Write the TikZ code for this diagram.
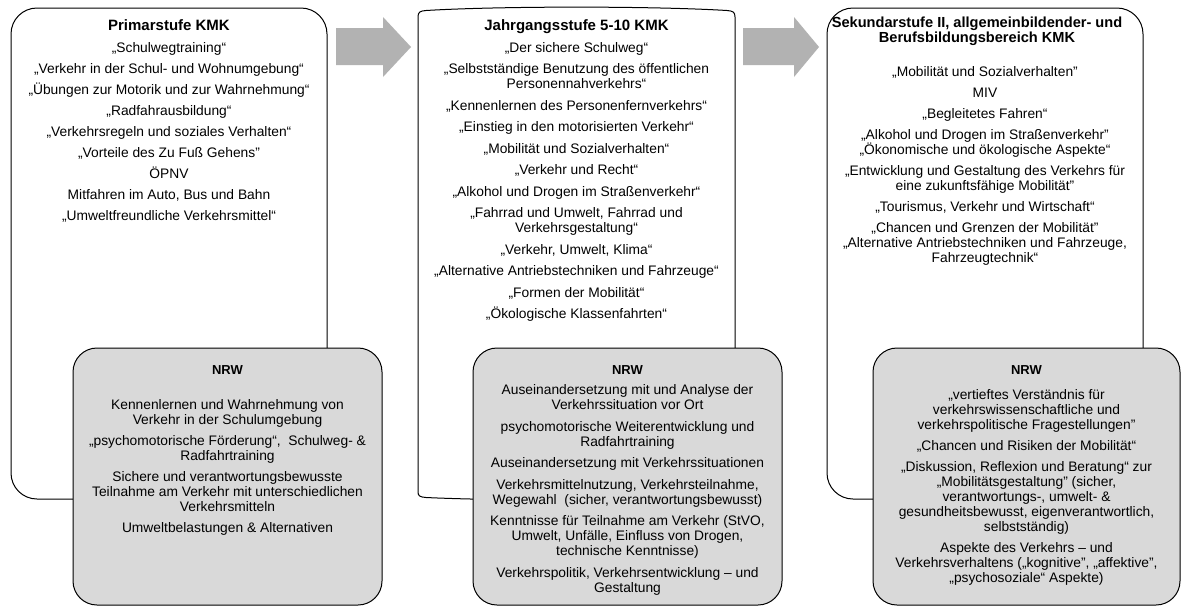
\documentclass[tikz,border=0pt]{standalone}
\usepackage{fontspec}
\setmainfont{Liberation Sans}
\definecolor{arrowgray}{RGB}{178,178,178}
\definecolor{nrwgray}{RGB}{217,217,217}
\newcommand{\firstln}{\rule{0pt}{11pt}}
\begin{document}
\begin{tikzpicture}[x=1pt,y=-1pt,
  box/.style={draw=black,line width=1pt,fill=white},
  nrwbox/.style={draw=black,line width=1pt,fill=nrwgray,rounded corners=24pt},
  blockarrow/.style={fill=arrowgray},
  body/.style={align=center,inner sep=0pt,anchor=north,font=\fontsize{13.8}{15}\selectfont},
  boxtitle/.style={align=center,inner sep=0pt,anchor=base,font=\bfseries\fontsize{15}{15}\selectfont},
  nrwtitle/.style={inner sep=0pt,anchor=base,font=\bfseries\fontsize{13}{15}\selectfont}]
\useasboundingbox[fill=white] (0,0) rectangle (1181,606);

% main boxes
\draw[box,rounded corners=26pt] (11,8) rectangle (327,499);
\draw[box] (418,492) -- (418,17) .. controls (418,12) and (420,11) .. (426,10.5)
  .. controls (500,6) and (653,6) .. (727,10.5)
  .. controls (733,11) and (735,12) .. (735,17) -- (735,492)
  .. controls (735,496) and (733,497) .. (727,497.5)
  .. controls (653,501) and (500,501) .. (426,497.5)
  .. controls (420,497) and (418,496) .. (418,492) -- cycle;
\draw[box,rounded corners=26pt] (827,8) rectangle (1143,499);

% block arrows
\fill[blockarrow] (336,28) -- (383,28) -- (383,17) -- (411,47) -- (383,77) -- (383,65) -- (336,65) -- cycle;
\fill[blockarrow] (743,28) -- (794,28) -- (794,17) -- (819,47) -- (794,77) -- (794,65) -- (743,65) -- cycle;

% NRW boxes
\draw[nrwbox] (73,348) rectangle (382,605);
\draw[nrwbox] (473,348) rectangle (782,605);
\draw[nrwbox] (873,348) rectangle (1180,605);

% Box 1
\node[boxtitle] (t1) at (169,30) {Primarstufe KMK};
\node[body] (l1) at (169,41) {\firstln„Schulwegtraining“\\[6pt]
„Verkehr in der Schul- und Wohnumgebung“\\[6pt]
„Übungen zur Motorik und zur Wahrnehmung“\\[6pt]
„Radfahrausbildung“\\[6pt]
„Verkehrsregeln und soziales Verhalten“\\[6pt]
„Vorteile des Zu Fuß Gehens"\\[6pt]
ÖPNV\\[6pt]
Mitfahren im Auto, Bus und Bahn\\[6pt]
„Umweltfreundliche Verkehrsmittel“};

% Box 2
\node[boxtitle] (t2) at (576.5,30) {Jahrgangsstufe 5-10 KMK};
\node[body] (l2) at (576.5,41) {\firstln„Der sichere Schulweg“\\[6.5pt]
„Selbstständige Benutzung des öffentlichen\\ Personennahverkehrs“\\[6.5pt]
„Kennenlernen des Personenfernverkehrs“\\[6.5pt]
„Einstieg in den motorisierten Verkehr“\\[6.5pt]
„Mobilität und Sozialverhalten“\\[6.5pt]
„Verkehr und Recht“\\[6.5pt]
„Alkohol und Drogen im Straßenverkehr“\\[6.5pt]
„Fahrrad und Umwelt, Fahrrad und\\ Verkehrsgestaltung“\\[6.5pt]
„Verkehr, Umwelt, Klima“\\[6.5pt]
„Alternative Antriebstechniken und Fahrzeuge“\\[6.5pt]
„Formen der Mobilität“\\[6.5pt]
„Ökologische Klassenfahrten“};

% Box 3
\node[boxtitle,anchor=north,font=\bfseries\fontsize{14.6}{15}\selectfont] (t3) at (977,16.5) {\firstln Sekundarstufe II, allgemeinbildender- und\\ Berufsbildungsbereich KMK};
\node[body] (l3) at (985,65.5) {\firstln„Mobilität und Sozialverhalten"\\[6pt]
MIV\\[6pt]
„Begleitetes Fahren“\\[6pt]
„Alkohol und Drogen im Straßenverkehr"\\ „Ökonomische und ökologische Aspekte“\\[6pt]
„Entwicklung und Gestaltung des Verkehrs für\\ eine zukunftsfähige Mobilität"\\[6pt]
„Tourismus, Verkehr und Wirtschaft“\\[6pt]
„Chancen und Grenzen der Mobilität"\\ „Alternative Antriebstechniken und Fahrzeuge,\\ Fahrzeugtechnik“};

% NRW 1
\node[nrwtitle] (n1) at (227.5,374.5) {NRW};
\node[body] (m1) at (227.5,398.5) {\firstln Kennenlernen und Wahrnehmung von\\ Verkehr in der Schulumgebung\\[6pt]
„psychomotorische Förderung“,~ Schulweg- \&\\ Radfahrtraining\\[6pt]
Sichere und verantwortungsbewusste\\ Teilnahme am Verkehr mit unterschiedlichen\\ Verkehrsmitteln\\[6pt]
Umweltbelastungen \& Alternativen};

% NRW 2
\node[nrwtitle] (n2) at (627.5,374.5) {NRW};
\node[body] (m2) at (627.5,383.5) {\firstln Auseinandersetzung mit und Analyse der\\ Verkehrssituation vor Ort\\[6.5pt]
psychomotorische Weiterentwicklung und\\ Radfahrtraining\\[6.5pt]
Auseinandersetzung mit Verkehrssituationen\\[6.5pt]
Verkehrsmittelnutzung, Verkehrsteilnahme,\\ Wegewahl~ (sicher, verantwortungsbewusst)\\[6.5pt]
Kenntnisse für Teilnahme am Verkehr (StVO,\\ Umwelt, Unfälle, Einfluss von Drogen,\\ technische Kenntnisse)\\[6.5pt]
Verkehrspolitik, Verkehrsentwicklung – und\\ Gestaltung};

% NRW 3
\node[nrwtitle] (n3) at (1026.5,374.5) {NRW};
\node[body] (m3) at (1026.5,388.5) {\firstln„vertieftes Verständnis für\\ verkehrswissenschaftliche und\\ verkehrspolitische Fragestellungen"\\[6pt]
„Chancen und Risiken der Mobilität“\\[6pt]
„Diskussion, Reflexion und Beratung“ zur\\ „Mobilitätsgestaltung" (sicher,\\ verantwortungs-, umwelt- \&\\ gesundheitsbewusst, eigenverantwortlich,\\ selbstständig)\\[6pt]
Aspekte des Verkehrs – und\\ Verkehrsverhaltens („kognitive", „affektive",\\ „psychosoziale“ Aspekte)};
\end{tikzpicture}
\end{document}
